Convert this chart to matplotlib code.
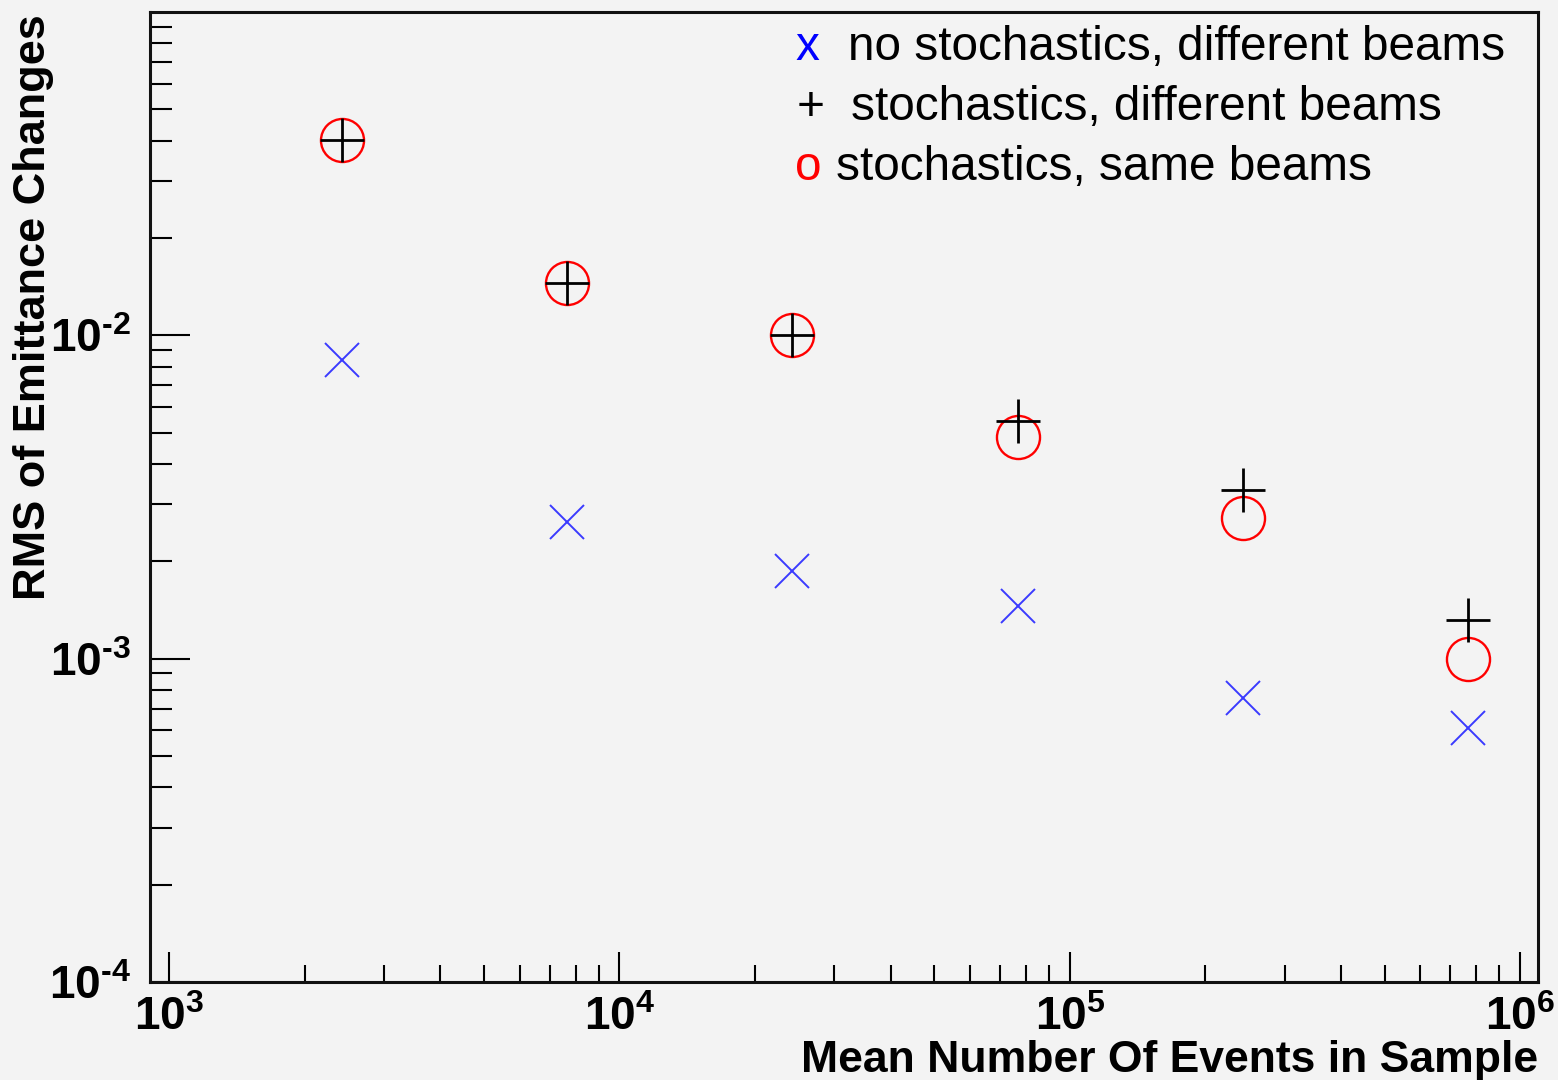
import matplotlib
matplotlib.use('Agg')
import matplotlib.pyplot as plt
from matplotlib.ticker import LogLocator, NullFormatter

plt.rcParams['font.family'] = ['Liberation Sans', 'DejaVu Sans']
plt.rcParams['mathtext.fontset'] = 'custom'
plt.rcParams['mathtext.rm'] = 'Liberation Sans:bold'
plt.rcParams['mathtext.bf'] = 'Liberation Sans:bold'
plt.rcParams['mathtext.it'] = 'Liberation Sans:bold'

# ---- data ----
n_events = [2420, 7660, 24200, 76700, 243000, 766000]
rms_no_stoch_diff = [0.00837, 0.00264, 0.00187, 0.00145, 0.000755, 0.000610]
rms_stoch_diff = [0.0401, 0.0145, 0.0100, 0.00542, 0.00332, 0.00132]
rms_stoch_same = [0.0401, 0.0145, 0.0100, 0.00484, 0.00272, 0.00100]

x_ticks = [1e3, 1e4, 1e5, 1e6]
x_ticklabels = [r'$\mathbf{10^{3}}$', r'$\mathbf{10^{4}}$', r'$\mathbf{10^{5}}$', r'$\mathbf{10^{6}}$']
y_ticks = [1e-4, 1e-3, 1e-2]
y_ticklabels = [r'$\mathbf{10^{\text{-}4}}$', r'$\mathbf{10^{\text{-}3}}$', r'$\mathbf{10^{\text{-}2}}$']

legend_symbols = ['x', '+', 'o']
legend_texts = ['no stochastics, different beams', 'stochastics, different beams', 'stochastics, same beams']
legend_colors = ['#0000ff', '#000000', '#ff0000']

x_title = 'Mean Number Of Events in Sample'
y_title = 'RMS of Emittance Changes'

bg = '#f3f3f3'
W, H = 1558, 1080
fig = plt.figure(figsize=(W / 100, H / 100), dpi=100, facecolor=bg)
ax = fig.add_axes([150 / W, 1 - 982 / H, (1538 - 150) / W, (982 - 12) / H])
ax.set_facecolor(bg)

ax.set_xscale('log')
ax.set_yscale('log')
ax.set_xlim(907, 1.096e6)
ax.set_ylim(1e-4, 0.1)

ax.plot(n_events, rms_no_stoch_diff, linestyle='none', marker='x', markersize=24,
        markeredgewidth=1.4, color='#3a3aff', zorder=3)
ax.plot(n_events, rms_stoch_same, linestyle='none', marker='o', markersize=31,
        markeredgewidth=1.7, markerfacecolor='none', markeredgecolor='#ff0000', zorder=4)
ax.plot(n_events, rms_stoch_diff, linestyle='none', marker='+', markersize=32,
        markeredgewidth=2.0, color='black', zorder=5)

ax.set_xticks(x_ticks, labels=x_ticklabels)
ax.set_yticks(y_ticks, labels=y_ticklabels)
ax.xaxis.set_minor_locator(LogLocator(base=10, subs=range(2, 10), numticks=20))
ax.yaxis.set_minor_locator(LogLocator(base=10, subs=range(2, 10), numticks=20))
ax.xaxis.set_minor_formatter(NullFormatter())
ax.yaxis.set_minor_formatter(NullFormatter())

ax.tick_params(axis='y', which='major', length=29, width=1.5, direction='in', pad=14, labelsize=33)
ax.tick_params(axis='y', which='minor', length=16, width=1.5, direction='in')
ax.tick_params(axis='x', which='major', length=21.5, width=1.5, direction='in', pad=10, labelsize=33)
ax.tick_params(axis='x', which='minor', length=12, width=1.5, direction='in')
ax.tick_params(top=False, right=False, which='both')

for s in ax.spines.values():
    s.set_linewidth(2.2)
    s.set_color('#111111')

fig.text(1538 / W, 1 - 1072 / H, x_title, ha='right', va='baseline',
         fontsize=32, fontweight='bold')
fig.text(34 / W, 1 - 14 / H, y_title, ha='center', va='top', rotation=90,
         fontsize=32.5, fontweight='bold')

# legend (typed symbols as in the original)
sym_x = [795, 797, 795]
txt_x = [848, 851, 836]
row_y = [48, 108, 168]
for sym, txt, col, sx, tx, ry in zip(legend_symbols, legend_texts, legend_colors, sym_x, txt_x, row_y):
    fig.text(sx / W, 1 - ry / H, sym, color=col, fontsize=34.4, ha='left', va='center')
    fig.text(tx / W, 1 - ry / H, txt, color='black', fontsize=34.4, ha='left', va='center')

fig.savefig('out.png', dpi=100, facecolor=bg)
